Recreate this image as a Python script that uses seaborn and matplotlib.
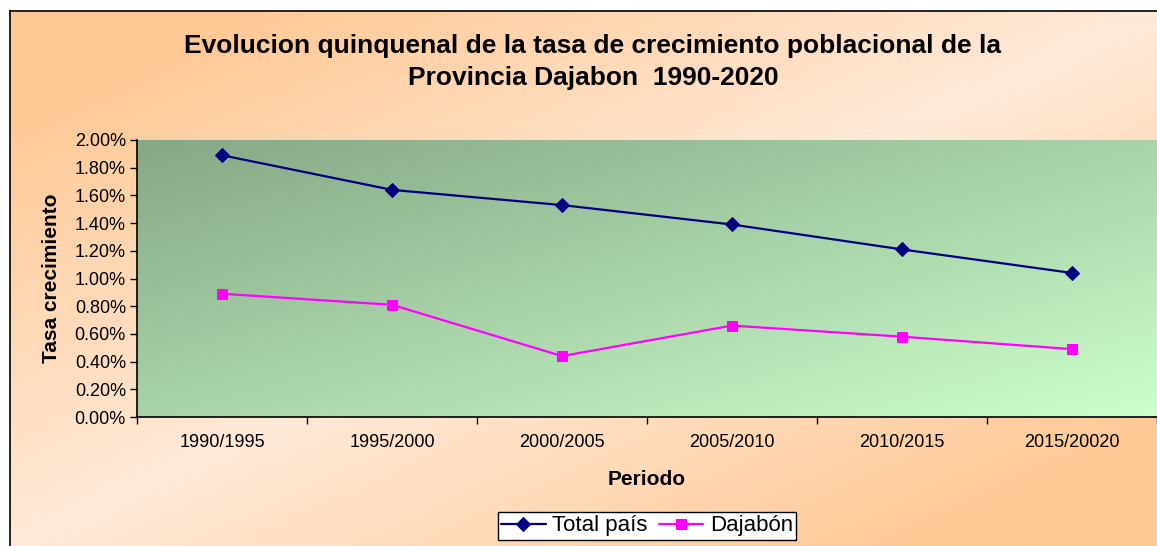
import numpy as np
import pandas as pd
import matplotlib
matplotlib.use("Agg")
import matplotlib.pyplot as plt
import seaborn as sns
from matplotlib.colors import LinearSegmentedColormap
from matplotlib.ticker import FuncFormatter, FixedLocator

# Data
periodos = ["1990/1995", "1995/2000", "2000/2005", "2005/2010", "2010/2015", "2015/20020"]
total_pais = [0.0189, 0.0164, 0.0153, 0.0139, 0.0121, 0.0104]
dajabon = [0.0089, 0.0081, 0.0044, 0.0066, 0.0058, 0.0049]
y_ticks = [0.0, 0.002, 0.004, 0.006, 0.008, 0.010, 0.012, 0.014, 0.016, 0.018, 0.020]

sns.set_theme(style="white")
plt.rcParams['font.family'] = ['Liberation Sans', 'DejaVu Sans']
plt.rcParams['text.color'] = 'black'
plt.rcParams['axes.labelcolor'] = 'black'
plt.rcParams['xtick.color'] = 'black'
plt.rcParams['ytick.color'] = 'black'

W, H = 1157, 546
fig = plt.figure(figsize=(W / 100, H / 100), dpi=100)
fig.patch.set_facecolor("white")


def gradient(c0, c1, mode, n=300):
    xx, yy = np.meshgrid(np.linspace(0, 1, n), np.linspace(0, 1, n))
    if mode == "diag":
        t = (xx + yy) / 2
    else:
        t = np.clip(np.abs(xx + yy - 1.0) / 0.8, 0, 1)
    cmap = LinearSegmentedColormap.from_list("g", [c0, c1])
    return cmap(t)


# Chart area background (peach gradient) with a black frame on left/top
bg = fig.add_axes([10 / W, 0, 1 - 10 / W, 1 - 11 / H], zorder=0)
bg.imshow(gradient("#FFE9D8", "#FFC995", "anti"), aspect="auto", extent=[0, 1, 0, 1], origin="upper")
bg.set_xticks([])
bg.set_yticks([])
for side in ["right", "bottom"]:
    bg.spines[side].set_visible(False)
for side in ["left", "top"]:
    bg.spines[side].set_color("black")
    bg.spines[side].set_linewidth(1.2)

# Plot area
left, right, top, bottom = 137, 1157, 140, 417
ax = fig.add_axes([left / W, (H - bottom) / H, (right - left) / W, (bottom - top) / H], zorder=1)
ax.patch.set_alpha(0)
ax.imshow(gradient("#86A886", "#CCFFCC", "diag"), aspect="auto",
          extent=[-0.5, 5.5, 0, 0.02], origin="upper", zorder=0)

df = pd.DataFrame({"Periodo": periodos, "Total país": total_pais, "Dajabón": dajabon})
x = np.arange(len(periodos))
sns.lineplot(x=x, y=df["Total país"], ax=ax, color="#000080", marker="D", markersize=7.5,
             markeredgecolor="#000080", linewidth=1.6, label="Total país", zorder=3)
sns.lineplot(x=x, y=df["Dajabón"], ax=ax, color="#FF00FF", marker="s", markersize=7.5,
             markeredgecolor="#FF00FF", linewidth=1.6, label="Dajabón", zorder=3)

ax.set_xlim(-0.5, 5.5)
ax.set_ylim(0, 0.02)

ax.set_yticks(y_ticks)
ax.yaxis.set_major_formatter(FuncFormatter(lambda v, p: f"{v * 100:.2f}%"))
ax.tick_params(axis="y", which="major", direction="out", length=5, width=1, color="black",
               labelsize=13, pad=3, left=True)

ax.set_xticks(x)
ax.set_xticklabels(periodos)
ax.xaxis.set_minor_locator(FixedLocator(np.arange(-0.5, 6.0, 1.0)))
ax.tick_params(axis="x", which="major", length=0, labelsize=13, pad=12)
ax.tick_params(axis="x", which="minor", direction="out", length=5, width=1, color="black", bottom=True)

for side in ["top", "right"]:
    ax.spines[side].set_visible(False)
for side in ["left", "bottom"]:
    ax.spines[side].set_color("black")
    ax.spines[side].set_linewidth(1.2)

ax.set_xlabel("Periodo", fontsize=15, fontweight="bold", labelpad=14)
ax.set_ylabel("Tasa crecimiento", fontsize=15, fontweight="bold", labelpad=10)
ax.grid(False)

fig.text(593 / W, 1 - 62 / H,
         "Evolucion quinquenal de la tasa de crecimiento poblacional de la\nProvincia Dajabon  1990-2020",
         ha="center", va="center", fontsize=19, fontweight="bold", linespacing=1.4)

leg = ax.legend(loc="upper center", bbox_to_anchor=(0.5, -0.343), ncol=2,
                fontsize=16, frameon=True, fancybox=False, edgecolor="black", facecolor="white",
                framealpha=1, handlelength=2.0, columnspacing=0.5, handletextpad=0.3,
                borderpad=0.15, borderaxespad=0)
leg.get_frame().set_linewidth(1.0)

fig.savefig("out.png", dpi=100)
